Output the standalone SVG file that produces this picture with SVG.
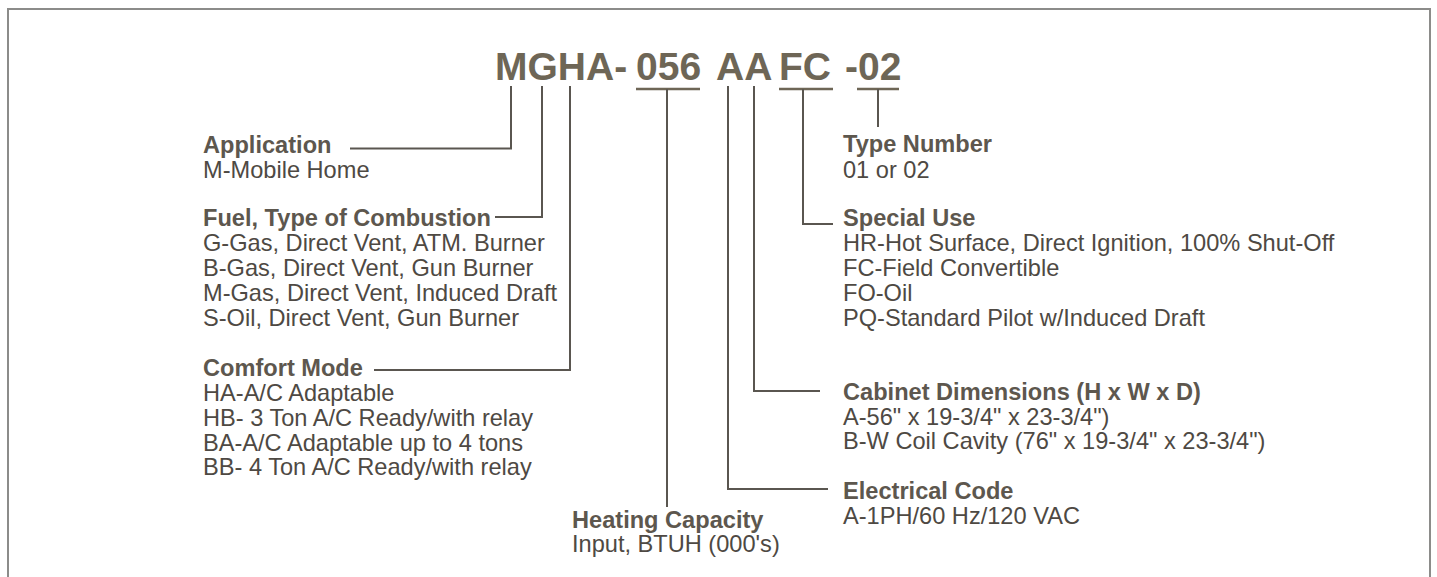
<svg xmlns="http://www.w3.org/2000/svg" width="1437" height="577" viewBox="0 0 1437 577">
<style>
.t{font-family:"Liberation Sans",Arial,Helvetica,sans-serif;font-size:23.6px;fill:#4e4943}
.h{font-weight:bold;fill:#5d574e}
.title{font-family:"Liberation Sans",Arial,Helvetica,sans-serif;font-weight:bold;font-size:39px;fill:#6e6656}
.c{fill:none;stroke:#5a5650;stroke-width:2}
.u{stroke:#6e6656;stroke-width:2.5}
.frame{fill:none;stroke:#8c8c8a;stroke-width:2}
</style>
<rect width="1437" height="577" fill="#ffffff"/>
<path class="frame" d="M8 577 V9 H1430 V577"/>
<g id="title">
<text class="title" x="495" y="80">MGHA-</text>
<text class="title" x="636" y="80">056</text>
<text class="title" x="716" y="80">AA</text>
<text class="title" x="779" y="80">FC</text>
<text class="title" x="845" y="80">-02</text>
<line class="u" x1="636" y1="89" x2="700" y2="89"/>
<line class="u" x1="779" y1="89" x2="833" y2="89"/>
<line class="u" x1="857" y1="89" x2="899" y2="89"/>
</g>
<g id="connectors">
<path class="c" d="M350 148.5 H511 V86"/>
<path class="c" d="M495 217 H542 V86"/>
<path class="c" d="M374 370 H570 V86"/>
<path class="c" d="M667 89 V507"/>
<path class="c" d="M728 86 V489 H828"/>
<path class="c" d="M754 86 V391 H820"/>
<path class="c" d="M803 89 V224 H833"/>
<path class="c" d="M878 89 V127"/>
</g>
<g id="application">
<text class="t h" x="203" y="153">Application</text>
<text class="t" x="203" y="178">M-Mobile Home</text>
</g>
<g id="fuel">
<text class="t h" x="203" y="226">Fuel, Type of Combustion</text>
<text class="t" x="203" y="251">G-Gas, Direct Vent, ATM. Burner</text>
<text class="t" x="203" y="276">B-Gas, Direct Vent, Gun Burner</text>
<text class="t" x="203" y="301">M-Gas, Direct Vent, Induced Draft</text>
<text class="t" x="203" y="326">S-Oil, Direct Vent, Gun Burner</text>
</g>
<g id="comfort">
<text class="t h" x="203" y="376">Comfort Mode</text>
<text class="t" x="203" y="401">HA-A/C Adaptable</text>
<text class="t" x="203" y="426">HB- 3 Ton A/C Ready/with relay</text>
<text class="t" x="203" y="451">BA-A/C Adaptable up to 4 tons</text>
<text class="t" x="203" y="475">BB- 4 Ton A/C Ready/with relay</text>
</g>
<g id="heating">
<text class="t h" x="572" y="528">Heating Capacity</text>
<text class="t" x="572" y="552">Input, BTUH (000's)</text>
</g>
<g id="type-number">
<text class="t h" x="843" y="152">Type Number</text>
<text class="t" x="843" y="178">01 or 02</text>
</g>
<g id="special-use">
<text class="t h" x="843" y="226">Special Use</text>
<text class="t" x="843" y="251">HR-Hot Surface, Direct Ignition, 100% Shut-Off</text>
<text class="t" x="843" y="276">FC-Field Convertible</text>
<text class="t" x="843" y="301">FO-Oil</text>
<text class="t" x="843" y="326">PQ-Standard Pilot w/Induced Draft</text>
</g>
<g id="cabinet">
<text class="t h" x="843" y="400">Cabinet Dimensions (H x W x D)</text>
<text class="t" x="843" y="425">A-56" x 19-3/4" x 23-3/4")</text>
<text class="t" x="843" y="449">B-W Coil Cavity (76" x 19-3/4" x 23-3/4")</text>
</g>
<g id="electrical">
<text class="t h" x="843" y="499">Electrical Code</text>
<text class="t" x="843" y="524">A-1PH/60 Hz/120 VAC</text>
</g>
</svg>
